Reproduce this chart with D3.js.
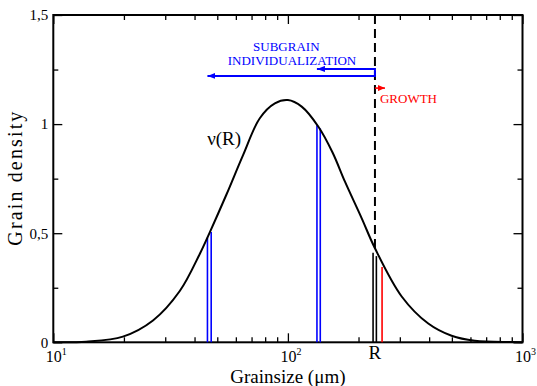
<!DOCTYPE html>
<html>
<head>
<meta charset="utf-8">
<script src="https://cdn.jsdelivr.net/npm/d3@7"></script>
<style>
  body { margin: 0; background: #fff; }
  text { font-family: "Liberation Serif", "Times New Roman", serif; }
</style>
</head>
<body>
<div id="chart"></div>
<script>
// grain size distribution nu(R)
var grainSizes   = [10, 13.8, 19.8, 26.6, 34.6, 42.1, 46.4, 54.6, 64.4, 75.9, 88, 100, 114.5, 134.9, 155, 175.1, 206.4, 235, 305.5, 396.5, 498.7, 626.7, 899, 1000];
var grainDensity = [0.0005, 0.003, 0.026, 0.1, 0.235, 0.405, 0.503, 0.675, 0.858, 1.027, 1.095, 1.11, 1.08, 0.988, 0.87, 0.736, 0.568, 0.431, 0.21, 0.086, 0.03, 0.007, 0.001, 0];

var yTicks = [0, 0.5, 1, 1.5];
var yTickLabels = ["0", "0,5", "1", "1,5"];
var yMinor = [0.25, 0.75, 1.25];
var xMajor = [10, 100, 1000];
var xMajorExp = ["1", "2", "3"];
var xMinor = [20, 30, 40, 50, 60, 70, 80, 90, 200, 300, 400, 500, 600, 700, 800, 900];

// vertical bars
var blueSizes = [45.4, 47.1, 133, 137.4];
var blueTops  = [0.48, 0.505, 0.995, 0.98];
var blackSizes = [230.7, 238.3];
var blackTops  = [0.41, 0.395];
var redSizes = [252];
var redTops  = [0.345];
var rSize = 235, rTop = 0.431;

var margin = {top: 15, right: 14.5, bottom: 43.7, left: 53.3};
var width = 537 - margin.left - margin.right;
var height = 386 - margin.top - margin.bottom;

var svg = d3.select("#chart").append("svg")
    .attr("width", 537)
    .attr("height", 386);

var defs = svg.append("defs");
function arrowMarker(id, color, len, half) {
  defs.append("marker")
      .attr("id", id)
      .attr("markerUnits", "userSpaceOnUse")
      .attr("viewBox", "0 0 " + len + " " + (half * 2))
      .attr("refX", len).attr("refY", half)
      .attr("markerWidth", len).attr("markerHeight", half * 2)
      .attr("orient", "auto")
    .append("path")
      .attr("d", "M0,0 L" + len + "," + half + " L0," + (half * 2) + " Z")
      .attr("fill", color);
}
arrowMarker("blueHead", "#0000ff", 8, 3);
arrowMarker("redHead", "#ff0000", 7, 3);

var chart = svg.append("g")
    .attr("transform", "translate(" + margin.left + "," + margin.top + ")");

var x = d3.scaleLog().domain([10, 1000]).range([0, width]);
var y = d3.scaleLinear().domain([0, 1.5]).range([height, 0]);

// axes: ticks on all four sides, pointing inward
function styleAxis(g) {
  g.select(".domain").remove();
  g.selectAll("line").attr("stroke", "#000").attr("stroke-width", 1.3);
}
chart.append("g").attr("transform", "translate(0," + height + ")")
  .call(d3.axisBottom(x).tickValues(xMajor).tickSize(-9).tickFormat("")).call(styleAxis);
chart.append("g").attr("transform", "translate(0," + height + ")")
  .call(d3.axisBottom(x).tickValues(xMinor).tickSize(-5).tickFormat("")).call(styleAxis);
chart.append("g")
  .call(d3.axisTop(x).tickValues(xMajor).tickSize(-9).tickFormat("")).call(styleAxis);
chart.append("g")
  .call(d3.axisTop(x).tickValues(xMinor).tickSize(-5).tickFormat("")).call(styleAxis);

chart.append("g")
  .call(d3.axisLeft(y).tickValues(yTicks).tickSize(-9).tickPadding(5)
    .tickFormat((d, i) => yTickLabels[i]))
  .call(styleAxis)
  .selectAll("text").attr("font-size", 15).attr("fill", "#000");
chart.append("g")
  .call(d3.axisLeft(y).tickValues(yMinor).tickSize(-5).tickFormat("")).call(styleAxis);
chart.append("g").attr("transform", "translate(" + width + ",0)")
  .call(d3.axisRight(y).tickValues(yTicks).tickSize(-9).tickFormat("")).call(styleAxis);
chart.append("g").attr("transform", "translate(" + width + ",0)")
  .call(d3.axisRight(y).tickValues(yMinor).tickSize(-5).tickFormat("")).call(styleAxis);

// x tick labels 10^n
var xl = chart.append("g").selectAll("text").data(xMajor).enter().append("text")
    .attr("x", d => x(d) + 3)
    .attr("y", height + 20)
    .attr("text-anchor", "middle")
    .attr("font-size", 16);
xl.append("tspan").text("10");
xl.append("tspan").attr("dy", -7).attr("font-size", 10).text((d, i) => xMajorExp[i]);

// R label
chart.append("text")
    .attr("x", x(rSize))
    .attr("y", height + 17)
    .attr("text-anchor", "middle")
    .attr("font-size", 19)
    .text("R");

// frame
chart.append("rect")
    .attr("width", width).attr("height", height)
    .attr("fill", "none").attr("stroke", "#000").attr("stroke-width", 2);

// vertical lines
function bars(sizes, tops, color) {
  chart.append("g").selectAll("line").data(sizes).enter().append("line")
      .attr("x1", d => x(d)).attr("x2", d => x(d))
      .attr("y1", y(0)).attr("y2", (d, i) => y(tops[i]))
      .attr("stroke", color).attr("stroke-width", 1.6);
}
bars(blueSizes, blueTops, "#0000ff");
bars(blackSizes, blackTops, "#000");
bars(redSizes, redTops, "#ff0000");

// dashed R line
chart.append("line")
    .attr("x1", x(rSize)).attr("x2", x(rSize))
    .attr("y1", y(1.5)).attr("y2", y(rTop))
    .attr("stroke", "#000").attr("stroke-width", 2)
    .attr("stroke-dasharray", "9,5");

// the distribution
var line = d3.line()
    .x((d, i) => x(grainSizes[i]))
    .y(d => y(d))
    .curve(d3.curveCatmullRom.alpha(0.5));
chart.append("path")
    .datum(grainDensity)
    .attr("d", line)
    .attr("fill", "none")
    .attr("stroke", "#000")
    .attr("stroke-width", 2);

chart.append("text")
    .attr("x", x(45.3)).attr("y", y(0.905))
    .attr("font-size", 19)
    .text("\u03bd(R)");

// arrows
chart.append("path")
    .attr("d", "M" + x(blueSizes[2]) + "," + y(1.253) + " H" + x(rSize) + " V" + y(1.221) + " H" + x(blueSizes[0]))
    .attr("fill", "none").attr("stroke", "#0000ff").attr("stroke-width", 2)
    .attr("marker-end", "url(#blueHead)");
chart.append("line")
    .attr("x1", x(rSize)).attr("x2", x(blueSizes[2]))
    .attr("y1", y(1.253)).attr("y2", y(1.253))
    .attr("stroke", "#0000ff").attr("stroke-width", 2)
    .attr("marker-end", "url(#blueHead)");
chart.append("line")
    .attr("x1", x(rSize)).attr("x2", x(rSize) + 10)
    .attr("y1", y(1.165)).attr("y2", y(1.165))
    .attr("stroke", "#ff0000").attr("stroke-width", 1.6)
    .attr("marker-end", "url(#redHead)");

chart.append("text")
    .attr("x", 233).attr("y", 36)
    .attr("text-anchor", "middle").attr("font-size", 13).attr("fill", "#0000ff")
    .text("SUBGRAIN");
chart.append("text")
    .attr("x", 238.7).attr("y", 49.5)
    .attr("text-anchor", "middle").attr("font-size", 13).attr("fill", "#0000ff")
    .text("INDIVIDUALIZATION");
chart.append("text")
    .attr("x", x(rSize) + 5).attr("y", 88)
    .attr("font-size", 13).attr("fill", "#ff0000")
    .text("GROWTH");

// axis titles
svg.append("text")
    .attr("x", margin.left + width / 2).attr("y", 383)
    .attr("text-anchor", "middle").attr("font-size", 19)
    .text("Grainsize (\u03bcm)");
svg.append("text")
    .attr("transform", "translate(22," + (margin.top + height / 2) + ") rotate(-90)")
    .attr("text-anchor", "middle").attr("font-size", 20)
    .attr("textLength", 134).attr("lengthAdjust", "spacing")
    .text("Grain density");
</script>
</body>
</html>
